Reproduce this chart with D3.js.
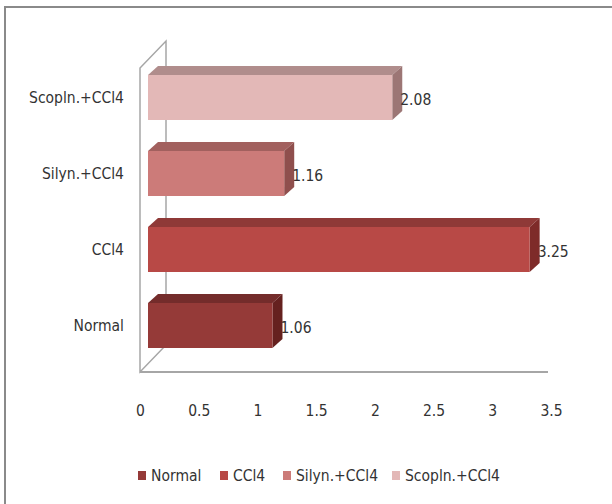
<!DOCTYPE html>
<html>
<head>
<meta charset="utf-8">
<script src="https://cdn.jsdelivr.net/npm/d3@7"></script>
<style>
html,body{margin:0;padding:0;background:#fff;}
svg{display:block;}
text{font-family:"Liberation Sans Narrow","DejaVu Sans Condensed","Arial Narrow",sans-serif;fill:#333;}
</style>
</head>
<body>
<svg id="chart" width="612" height="504"></svg>
<script>
const categories = ["Normal", "CCl4", "Silyn.+CCl4", "Scopln.+CCl4"];
const values = [1.06, 3.25, 1.16, 2.08];
const valueLabels = ["1.06", "3.25", "1.16", "2.08"];
const tickValues = [0, 0.5, 1, 1.5, 2, 2.5, 3, 3.5];
const tickLabels = ["0", "0.5", "1", "1.5", "2", "2.5", "3", "3.5"];
const frontColors = ["#953a38", "#b84946", "#cc7b79", "#e3b8b7"];
const topColors   = ["#742c2b", "#8f3937", "#a2605e", "#b08d8c"];
const sideColors  = ["#65211f", "#7e2b29", "#8f4f4d", "#9c7675"];

const svg = d3.select("#chart");

// outer border
svg.append("rect").attr("x", 5).attr("y", 7).attr("width", 700).attr("height", 600)
  .attr("fill", "none").attr("stroke", "#8a8a8a").attr("stroke-width", 2);

const x = d3.scaleLinear().domain([0, 3.5]).range([140, 551]);
const y = d3.scaleBand().domain(categories.slice().reverse())
  .range([59.5, 363.5]).paddingInner(0.408).paddingOuter(0.204);

const wallDx = 26, wallDy = -27;
const barDx = 8, barDepthX = 10, barDepthY = -9;
const floorY = 372;

// walls
const wallColor = "#a6a6a6";
const wall = svg.append("g").attr("fill", "none").attr("stroke", wallColor).attr("stroke-width", 1.5);
const topY = 68;
wall.append("path").attr("d",
  `M${x(0)},${floorY} L${x(0)},${topY} L${x(0)+wallDx},${topY+wallDy} L${x(0)+wallDx},${floorY+wallDy} Z`);
wall.append("line").attr("x1", x(0)).attr("y1", floorY).attr("x2", x(3.5) - 3).attr("y2", floorY)
  .attr("stroke-width", 2);

// bars
const bars = svg.append("g");
categories.forEach((c, i) => {
  const x0 = x(0) + barDx, x1 = x(values[i]) + barDx;
  const y0 = y(c), h = y.bandwidth();
  const g = bars.append("g");
  // top face
  g.append("path").attr("d",
    `M${x0},${y0} L${x0+barDepthX},${y0+barDepthY} L${x1+barDepthX},${y0+barDepthY} L${x1},${y0} Z`)
    .attr("fill", topColors[i]);
  // side face
  g.append("path").attr("d",
    `M${x1},${y0} L${x1+barDepthX},${y0+barDepthY} L${x1+barDepthX},${y0+h+barDepthY} L${x1},${y0+h} Z`)
    .attr("fill", sideColors[i]);
  // front face
  g.append("rect").attr("x", x0).attr("y", y0).attr("width", x1 - x0).attr("height", h)
    .attr("fill", frontColors[i]);
  // value label
  g.append("text").attr("x", x1 + barDepthX - 2).attr("y", y0 + h / 2 + 2)
    .attr("dy", "0.35em").attr("font-size", 15.5).text(valueLabels[i]);
});

// category labels
const yAxis = d3.axisLeft(y).tickSize(0).tickPadding(0);
const gy = svg.append("g").attr("transform", "translate(124,1)").call(yAxis);
gy.select(".domain").remove();
gy.selectAll("text").attr("font-size", 15.5).style("font-family", null).attr("fill", "#333");

// x axis labels
const xAxis = d3.axisBottom(x).tickValues(tickValues).tickSize(0).tickPadding(0)
  .tickFormat((d, i) => tickLabels[i]);
const gx = svg.append("g").attr("transform", "translate(0,405)").call(xAxis);
gx.select(".domain").remove();
gx.selectAll("text").attr("font-size", 15.5).style("font-family", null).attr("fill", "#333");

// legend
const legendX = [138, 220, 283, 392];
const lg = svg.append("g");
categories.forEach((c, i) => {
  lg.append("rect").attr("x", legendX[i]).attr("y", 471).attr("width", 8).attr("height", 9)
    .attr("fill", frontColors[i]);
  lg.append("text").attr("x", legendX[i] + 13).attr("y", 476).attr("dy", "0.35em")
    .attr("font-size", 15.5).text(c);
});
</script>
</body>
</html>
